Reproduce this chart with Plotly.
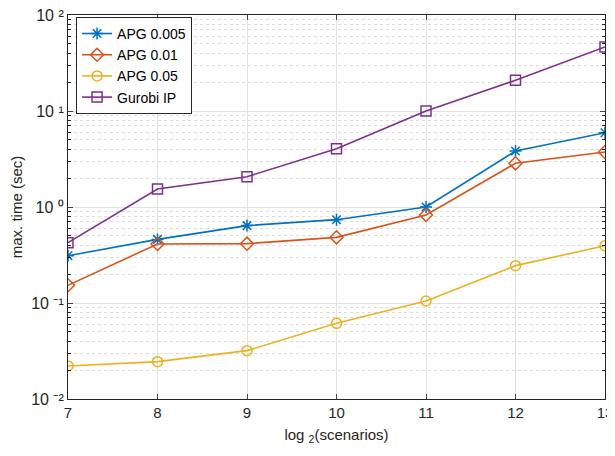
import plotly.graph_objects as go

x_vals = [7, 8, 9, 10, 11, 12, 13]
apg_0005 = [0.311, 0.46, 0.64, 0.738, 1.0, 3.83, 5.94]
apg_001 = [0.153, 0.412, 0.415, 0.483, 0.826, 2.85, 3.74]
apg_005 = [0.0221, 0.0245, 0.0319, 0.0614, 0.105, 0.245, 0.395]
gurobi = [0.425, 1.54, 2.07, 4.05, 10.0, 20.9, 46.4]

series_names = ["APG 0.005", "APG 0.01", "APG 0.05", "Gurobi IP"]
colors = ["#0072BD", "#D95319", "#EDB120", "#7E2F8E"]
symbols = ["asterisk-open", "diamond-open", "circle-open", "square-open"]
y_tick_vals = [0.01, 0.1, 1, 10, 100]
y_tick_text = ["10 \u207b\u00b2", "10 \u207b\u00b9", "10 \u2070", "10 \u00b9", "10 \u00b2"]
y_minor_vals = [m * d for d in [0.01, 0.1, 1, 10] for m in range(2, 10)]

fig = go.Figure()
for name, ys, c, s in zip(series_names, [apg_0005, apg_001, apg_005, gurobi], colors, symbols):
    fig.add_trace(go.Scatter(
        x=x_vals, y=ys, name=name, mode="lines+markers",
        line=dict(color=c, width=1.6),
        marker=dict(symbol=s, size=10, color=c, line=dict(color=c, width=1.5)),
    ))

font = "Liberation Sans, Arial, sans-serif"
# page has an 8px body margin, so figure is sized 607x448 to fill the 615x456 window
fig.update_layout(
    width=607, height=448,
    margin=dict(l=60, r=10, t=7, b=57),
    paper_bgcolor="white", plot_bgcolor="white",
    font=dict(family=font, size=15, color="#262626"),
    showlegend=True,
    legend=dict(x=0.015, y=0.995, xanchor="left", yanchor="top",
                bgcolor="white", bordercolor="#262626", borderwidth=1,
                font=dict(size=14, color="black"), tracegroupgap=0,
                itemwidth=30),
    xaxis=dict(
        range=[7, 13], tickvals=x_vals, ticks="inside", ticklen=5,
        showline=True, linecolor="#262626", linewidth=1, mirror="ticks",
        showgrid=True, gridcolor="#e3e3e3", gridwidth=1, zeroline=False,
        title=dict(text="log <sub>2</sub>(scenarios)", font=dict(size=15), standoff=9),
        tickfont=dict(size=15), ticklabeloverflow="allow", automargin=False,
    ),
    yaxis=dict(
        type="log", range=[-2, 2], tickvals=y_tick_vals, ticktext=y_tick_text,
        ticks="inside", ticklen=5,
        showline=True, linecolor="#262626", linewidth=1, mirror="ticks",
        showgrid=True, gridcolor="#e3e3e3", gridwidth=1, zeroline=False,
        minor=dict(tickmode="array", tickvals=y_minor_vals, ticks="inside", ticklen=3,
                   tickcolor="#262626", showgrid=True,
                   gridcolor="#dcdcdc", griddash="dot", gridwidth=1),
        title=dict(text="max. time (sec)", font=dict(size=15), standoff=12),
        tickfont=dict(size=16), ticklabeloverflow="allow", automargin=False,
    ),
)

fig.write_html("out.html")
